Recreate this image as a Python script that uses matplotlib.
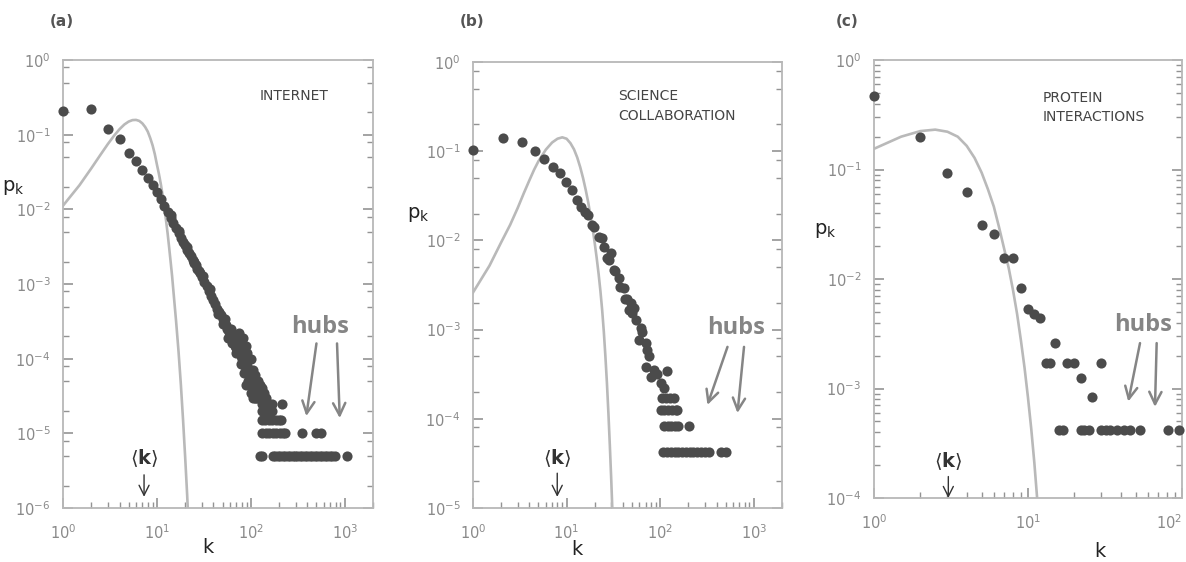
import matplotlib.pyplot as plt
import numpy as np
from matplotlib.ticker import LogLocator, NullFormatter

# ---- (a) internet: measured degree distribution ----
a_k = [1, 2, 3, 4, 5, 6, 7, 8, 9, 10, 11, 12, 13, 14, 15, 16, 17, 18, 19, 20,
       21, 22, 23, 24, 25, 26, 27, 28, 29, 30, 32, 34, 36, 38, 40, 42, 44, 46, 48, 50,
       52, 54, 56, 58, 60, 62, 64, 66, 68, 70, 72, 74, 76, 78, 80, 83, 86, 89, 92, 95,
       98, 101, 104, 108, 112, 116, 120]
a_p = [0.21, 0.22, 0.119, 0.087, 0.057, 0.045, 0.034, 0.0266, 0.0213, 0.017,
       0.0136, 0.0110, 0.0091, 0.0077, 0.0065, 0.0056, 0.0048, 0.0042, 0.0037, 0.0033,
       0.0029, 0.0026, 0.0024, 0.0021, 0.0019, 0.0018, 0.0016, 0.0015, 0.0014, 0.00126,
       0.00108, 9.3e-4, 8.0e-4, 6.9e-4, 6.1e-4, 5.4e-4, 4.7e-4, 4.2e-4, 3.8e-4, 3.4e-4,
       3.1e-4, 2.8e-4, 2.5e-4, 2.3e-4, 2.1e-4, 1.9e-4, 1.8e-4, 1.65e-4, 1.5e-4, 1.4e-4,
       1.3e-4, 1.2e-4, 1.15e-4, 1.07e-4, 1.0e-4, 9.0e-5, 8.0e-5, 7.3e-5, 6.6e-5, 6.0e-5,
       5.4e-5, 5.0e-5, 4.5e-5, 4.0e-5, 3.6e-5, 3.3e-5, 3.0e-5]
# scatter around the main band
a_k_extra = [14, 17, 21, 25, 31, 37, 45, 50, 53, 57, 61, 63, 67, 69, 73, 75, 77, 79, 82, 85,
             88, 88, 91, 92, 94, 97, 100, 100, 103, 106, 106, 110, 112, 114, 118, 118, 122,
             124, 128, 130, 134, 138, 145]
a_p_extra = [0.0085, 0.0052, 0.0031, 0.0020, 0.0013, 8.5e-4, 4.0e-4, 2.9e-4, 3.4e-4, 1.9e-4,
             2.5e-4, 1.6e-4, 2.0e-4, 1.2e-4, 1.6e-4, 2.2e-4, 1.3e-4, 8.5e-5, 1.9e-4, 6.5e-5,
             1.5e-4, 4.5e-5, 8.0e-5, 1.2e-4, 5.0e-5, 7.0e-5, 1.0e-4, 3.5e-5, 4.0e-5, 7.0e-5,
             3.0e-5, 6.0e-5, 3.0e-5, 3.0e-5, 5.0e-5, 4.0e-5, 3.5e-5, 4.5e-5, 3.0e-5, 4.0e-5,
             3.0e-5, 3.5e-5, 3.0e-5]
# flat rows of the tail (1..5 nodes)
a_levels = [2.5e-5, 2e-5, 1.5e-5, 1e-5, 5e-6]
a_row_k = [[130, 142, 155, 168, 217],
           [133, 145, 157, 170],
           [130, 142, 155, 170, 185, 200, 212],
           [133, 145, 158, 172, 187, 203, 220, 230, 347, 500, 555],
           [124, 131, 172, 182, 193, 205, 218, 232, 246, 262, 278, 296, 314, 334, 355,
            377, 401, 426, 452, 481, 511, 543, 577, 613, 652, 693, 736, 782, 1050]]
# random network curve
a_curve_k = [1, 1.5, 2, 2.5, 3, 3.5, 4, 4.5, 5, 5.5, 6, 6.5, 7, 7.5, 8, 8.5, 9, 9.5, 10,
             10.5, 11, 11.5, 12, 12.5, 13, 13.5, 14, 14.5, 15, 16, 17, 18, 19, 20, 21, 22]
a_curve_p = [0.0112, 0.0211, 0.0354, 0.0536, 0.0748, 0.0971, 0.1186, 0.137, 0.150, 0.157,
             0.158, 0.153, 0.142, 0.127, 0.110, 0.090, 0.072, 0.055, 0.040, 0.030, 0.022,
             0.0155, 0.0105, 0.0072, 0.0048, 0.0031, 0.0020, 0.0013, 8.0e-4, 3.2e-4,
             1.25e-4, 4.5e-5, 1.5e-5, 4.8e-6, 1.5e-6, 4.2e-7]

# ---- (b) science collaboration ----
b_k = [1, 2.1, 3.3, 4.6, 5.8, 7.1, 8.6, 9.8, 11.3, 12.8, 14.1, 15.9, 17, 18.5, 19.6, 22.2,
       24, 25, 27, 28.3, 29.5, 32, 33, 36.3, 37.6, 41, 42.6, 44.5, 46.4, 48.3, 50.5, 52.4,
       54.7, 59.4, 61.9, 64.5, 69.8, 72.7, 75.6, 69.8, 79.3, 85.6, 93, 101, 110, 119]
b_p = [0.103, 0.14, 0.126, 0.101, 0.082, 0.067, 0.0565, 0.0448, 0.0367, 0.0284, 0.0235,
       0.021, 0.0193, 0.0148, 0.014, 0.0108, 0.0105, 0.0085, 0.0063, 0.006, 0.0072, 0.0047,
       0.0045, 0.0038, 0.003, 0.0029, 0.0022, 0.0022, 0.00166, 0.002, 0.00152, 0.00173,
       0.00128, 7.6e-4, 0.00103, 9.5e-4, 7.0e-4, 5.9e-4, 5.0e-4, 3.8e-4, 2.95e-4, 3.5e-4,
       3.2e-4, 2.5e-4, 2.2e-4, 3.4e-4]
b_levels = [1.7e-4, 1.26e-4, 8.4e-5, 4.2e-5]
b_row_k = [[105, 115, 127, 140],
           [101, 111, 122, 134, 147, 153],
           [109, 120, 132, 145, 155, 203],
           [108, 118, 130, 143, 157, 172, 189, 207, 227, 249, 273, 300, 330, 445, 500]]
b_curve_k = [1, 1.5, 2, 2.5, 3, 3.5, 4, 4.5, 5, 6, 7, 8, 9, 10, 11, 12, 13, 14, 15, 16,
             17, 18, 19, 20, 21, 22, 23, 24, 25, 26, 27, 28, 29, 30, 31]
b_curve_p = [0.0026, 0.0052, 0.0095, 0.015, 0.023, 0.034, 0.047, 0.062, 0.077, 0.104,
             0.125, 0.138, 0.143, 0.138, 0.123, 0.105, 0.085, 0.066, 0.050, 0.037, 0.027,
             0.019, 0.0135, 0.0093, 0.0063, 0.0042, 0.0027, 0.00166, 9.5e-4, 5.0e-4,
             2.5e-4, 1.15e-4, 5.0e-5, 2.1e-5, 8.3e-6]

# ---- (c) protein interactions ----
c_k = [1, 2, 3, 4, 5, 6, 7, 8, 9, 10, 11, 12, 13, 14, 15, 18, 20, 22, 26, 30]
c_p = [0.47, 0.197, 0.094, 0.063, 0.031, 0.0256, 0.0157, 0.0157, 0.0083, 0.0053, 0.0048,
       0.0044, 0.0017, 0.0017, 0.0026, 0.0017, 0.0017, 0.00126, 8.4e-4, 0.0017]
c_levels = [4.2e-4]
c_row_k = [[16, 17, 22, 23, 25, 30, 32, 34, 38, 42, 46, 53, 81, 95]]
c_curve_k = [1, 1.5, 2, 2.5, 3, 3.5, 4, 4.5, 5, 5.5, 6, 6.5, 7, 7.5, 8, 8.5, 9, 9.5, 10,
             10.5, 11, 11.5, 12]
c_curve_p = [0.155, 0.2, 0.225, 0.232, 0.222, 0.2, 0.165, 0.128, 0.094, 0.066, 0.046,
             0.0295, 0.019, 0.0126, 0.0079, 0.0048, 0.00275, 0.00155, 8.3e-4, 4.3e-4,
             2.1e-4, 9.5e-5, 4.2e-5]

dot = '#4b4b4b'
curve = '#b9b9b9'
tick = '#939393'
hub = '#858585'

fig = plt.figure(figsize=(11.86, 5.62), dpi=100)
ax_a = fig.add_axes([0.0531, 0.0961, 0.2614, 0.797])
ax_b = fig.add_axes([0.3988, 0.0961, 0.2605, 0.7936])
ax_c = fig.add_axes([0.7369, 0.1139, 0.2597, 0.779])


def style(ax, ysubs):
    ax.set_xscale('log')
    ax.set_yscale('log')
    for s in ax.spines.values():
        s.set_color('#b8b8b8')
        s.set_linewidth(1.3)
    ax.xaxis.set_major_locator(LogLocator(base=10, numticks=15))
    ax.xaxis.set_minor_locator(LogLocator(base=10, subs=np.arange(2, 10), numticks=15))
    ax.yaxis.set_major_locator(LogLocator(base=10, numticks=15))
    ax.yaxis.set_minor_locator(LogLocator(base=10, subs=ysubs, numticks=15))
    ax.xaxis.set_minor_formatter(NullFormatter())
    ax.yaxis.set_minor_formatter(NullFormatter())
    ax.tick_params(which='both', direction='in', color=tick, labelcolor='#8a8a8a',
                   labelsize=10.5, top=False, right=True)
    ax.tick_params(which='major', length=7, width=1.2)
    ax.tick_params(which='minor', length=4.5, width=1.0)
    ax.tick_params(axis='x', pad=11)
    ax.tick_params(axis='y', pad=9)


def draw(ax, ks, ps, levels, rows, ck, cp):
    ax.plot(ck, cp, color=curve, lw=1.9, zorder=2)
    for kk, pp in zip(ks, ps):
        ax.plot(kk, pp, 'o', color=dot, ms=7.3, mec='none', zorder=3, clip_on=False)
    for lev, row in zip(levels, rows):
        ax.plot(row, [lev] * len(row), 'o', color=dot, ms=7.3, mec='none', zorder=3,
                clip_on=False)


style(ax_a, (2, 5, 8))
draw(ax_a, [a_k, a_k_extra], [a_p, a_p_extra], a_levels, a_row_k, a_curve_k, a_curve_p)
ax_a.set_xlim(1, 2000)
ax_a.set_ylim(1e-6, 1)

style(ax_b, (2, 5, 8))
draw(ax_b, [b_k], [b_p], b_levels, b_row_k, b_curve_k, b_curve_p)
ax_b.set_xlim(1, 2000)
ax_b.set_ylim(1e-5, 1)

style(ax_c, np.arange(2, 10))
draw(ax_c, [c_k], [c_p], c_levels, c_row_k, c_curve_k, c_curve_p)
ax_c.set_xlim(1, 100)
ax_c.set_ylim(1e-4, 1)

# network names
ax_a.text(0.745, 0.92, 'INTERNET', transform=ax_a.transAxes, ha='center', va='center',
          fontsize=10, color='#444444')
ax_b.text(0.469, 0.901, 'SCIENCE\nCOLLABORATION', transform=ax_b.transAxes, ha='left',
          va='center', fontsize=10, color='#444444', linespacing=1.5)
ax_c.text(0.549, 0.892, 'PROTEIN\nINTERACTIONS', transform=ax_c.transAxes, ha='left',
          va='center', fontsize=10, color='#444444', linespacing=1.5)

# axis labels
for ax, xl, yl in [(ax_a, (0.468, -0.089), (-0.16, 0.716)),
                   (ax_b, (0.336, -0.094), (-0.178, 0.657)),
                   (ax_c, (0.734, -0.122), (-0.159, 0.612))]:
    ax.text(xl[0], xl[1], 'k', transform=ax.transAxes, ha='center', va='center',
            fontsize=14, color='#222222')
    ax.text(yl[0], yl[1], r'$\mathregular{p_k}$', transform=ax.transAxes, ha='center',
            va='center', fontsize=14, color='#222222')

# hubs
hub_arrow = dict(arrowstyle='->', color=hub, lw=1.8, mutation_scale=22, shrinkA=0, shrinkB=0)
for ax, pos, arrows in [
        (ax_a, (0.829, 0.404), [((500, 1.6e-4), (390, 1.7e-5)), ((828, 1.6e-4), (885, 1.6e-5))]),
        (ax_b, (0.851, 0.404), [((524, 6.4e-4), (320, 1.43e-4)), ((787, 6.4e-4), (670, 1.16e-4))]),
        (ax_c, (0.873, 0.395), [((53.4, 2.6e-3), (44.8, 7.6e-4)), ((68.5, 2.6e-3), (66.8, 6.8e-4))])]:
    ax.text(pos[0], pos[1], 'hubs', transform=ax.transAxes, ha='center', va='center',
            fontsize=17, fontweight='bold', color=hub, family='Open Sans')
    for start, end in arrows:
        ax.annotate('', xy=end, xytext=start, arrowprops=hub_arrow)

# average degree marks
for ax, kmean, y0, y1, yt in [(ax_a, 7.3, 0.074, 0.025, 0.112),
                              (ax_b, 7.95, 0.078, 0.025, 0.112),
                              (ax_c, 3.04, 0.049, 0.0, 0.085)]:
    ax.text(kmean, yt, r'$\langle\mathbf{k}\rangle$',
            transform=ax.get_xaxis_transform(), ha='center', va='center', fontsize=14,
            color='#333333')
    ax.annotate('', xy=(kmean, y1), xytext=(kmean, y0), xycoords=('data', 'axes fraction'),
                textcoords=('data', 'axes fraction'),
                arrowprops=dict(arrowstyle='->', color='#333333', lw=1.0, mutation_scale=18,
                                shrinkA=0, shrinkB=0))

for x, lab in [(62, '(a)'), (472, '(b)'), (847, '(c)')]:
    fig.text(x / 1186, 1 - 21 / 562, lab, ha='center', va='center', fontsize=11,
             fontweight='bold', color='#555555')

# keep the last label of panel (c) inside the figure
fig.canvas.draw()
for lbl in ax_c.get_xticklabels():
    if abs(lbl.get_position()[0] - 100) < 1e-6:
        lbl.set_ha('right')

fig.savefig('out.png', dpi=100)
